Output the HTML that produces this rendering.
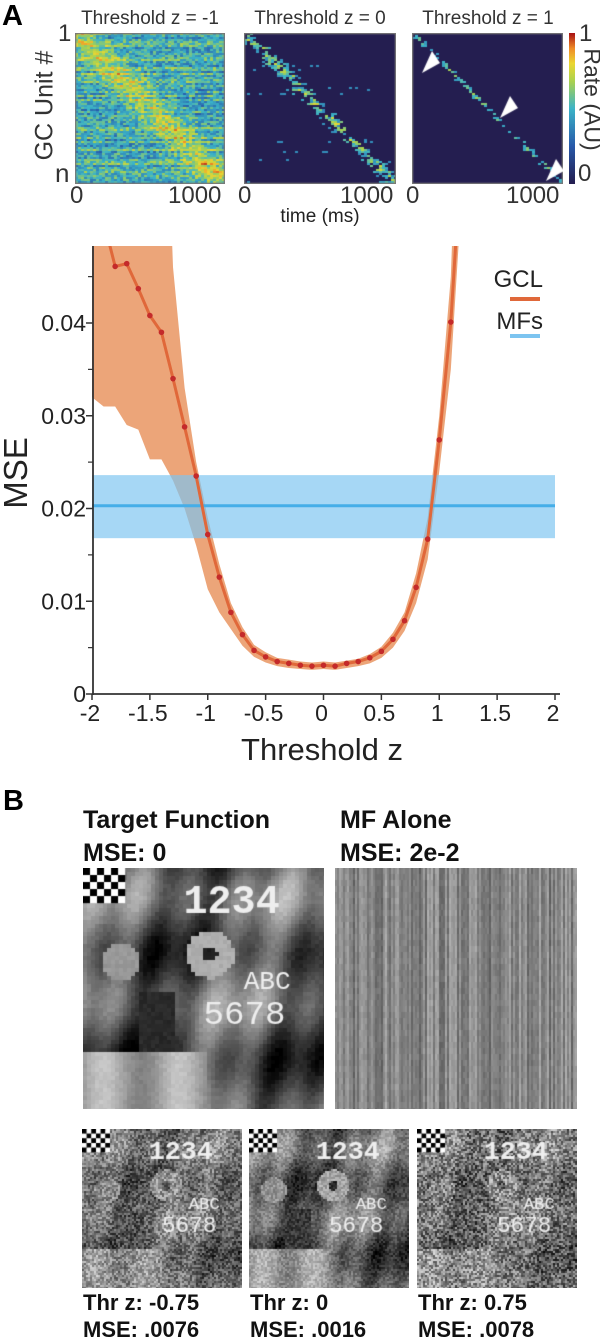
<!DOCTYPE html>
<html><head><meta charset="utf-8">
<style>
body{margin:0;background:#fff;width:600px;height:1339px;overflow:hidden;position:relative;font-family:"Liberation Sans",sans-serif;}
.abs{position:absolute;}
canvas{position:absolute;display:block;}
.bt{position:absolute;font-weight:bold;font-size:25px;color:#111;white-space:nowrap;transform-origin:0 0;}
.bs{position:absolute;font-weight:bold;font-size:22px;color:#111;white-space:nowrap;}
</style></head><body>
<div class="abs" style="left:2px;top:0px;font-size:29px;font-weight:bold;">A</div>
<div class="abs" style="left:70px;top:8px;width:160px;text-align:center;font-size:19px;color:#333">Threshold z = -1</div>
<div class="abs" style="left:240px;top:8px;width:160px;text-align:center;font-size:19px;color:#333">Threshold z = 0</div>
<div class="abs" style="left:408px;top:8px;width:160px;text-align:center;font-size:19px;color:#333">Threshold z = 1</div>
<div class="abs" style="left:58px;top:20px;font-size:24px;color:#333">1</div>
<div class="abs" style="left:55px;top:158px;font-size:26px;color:#333">n</div>
<div class="abs" style="left:-15px;top:91px;width:120px;text-align:center;font-size:25px;color:#333;transform:rotate(-90deg)">GC Unit #</div>
<canvas id="h1" width="150" height="151" style="left:75px;top:33px"></canvas>
<canvas id="h2" width="152" height="151" style="left:244px;top:33px"></canvas>
<canvas id="h3" width="151" height="151" style="left:412px;top:33px"></canvas>
<canvas id="cb" width="6" height="151" style="left:569px;top:33px"></canvas>
<div class="abs" style="left:579px;top:20px;font-size:24px;color:#333">1</div>
<div class="abs" style="left:578px;top:160px;font-size:24px;color:#333">0</div>
<div class="abs" style="left:534px;top:86px;width:116px;text-align:center;font-size:23px;color:#333;transform:rotate(90deg)">Rate (AU)</div>
<div class="abs" style="left:70px;top:182px;font-size:24px;color:#333">0</div>
<div class="abs" style="left:168px;top:182px;font-size:24px;color:#333">1000</div>
<div class="abs" style="left:238px;top:182px;font-size:24px;color:#333">0</div>
<div class="abs" style="left:340px;top:182px;font-size:24px;color:#333">1000</div>
<div class="abs" style="left:406px;top:182px;font-size:24px;color:#333">0</div>
<div class="abs" style="left:506px;top:182px;font-size:24px;color:#333">1000</div>
<div class="abs" style="left:255px;top:206px;width:130px;text-align:center;font-size:19px;color:#222">time (ms)</div>

<svg id="chart" class="abs" style="left:0;top:240px" width="600" height="530"></svg>

<div class="abs" style="left:3px;top:785px;font-size:29px;font-weight:bold;">B</div>
<div class="bt" style="left:83px;top:806px">Target Function</div>
<div class="bt" style="left:83px;top:839px">MSE: 0</div>
<div class="bt" style="left:340px;top:806px">MF Alone</div>
<div class="bt" style="left:340px;top:839px">MSE: 2e-2</div>
<canvas id="cat0" width="241" height="241" style="left:83px;top:868px"></canvas>
<canvas id="mf" width="242" height="241" style="left:335px;top:868px"></canvas>
<canvas id="c1" width="160" height="159" style="left:82px;top:1129px"></canvas>
<canvas id="c2" width="160" height="159" style="left:249px;top:1129px"></canvas>
<canvas id="c3" width="160" height="159" style="left:417px;top:1129px"></canvas>
<div class="bs" style="left:83px;top:1290px">Thr z: -0.75</div>
<div class="bs" style="left:83px;top:1317px">MSE: .0076</div>
<div class="bs" style="left:250px;top:1290px">Thr z: 0</div>
<div class="bs" style="left:250px;top:1317px">MSE: .0016</div>
<div class="bs" style="left:418px;top:1290px">Thr z: 0.75</div>
<div class="bs" style="left:418px;top:1317px">MSE: .0078</div>

<script>
// ---- chart data ----
const zVals = [-2,-1.9,-1.8,-1.7,-1.6,-1.5,-1.4,-1.3,-1.2,-1.1,-1.0,-0.9,-0.8,-0.7,-0.6,-0.5,-0.4,-0.3,-0.2,-0.1,0,0.1,0.2,0.3,0.4,0.5,0.6,0.7,0.8,0.9,1.0,1.1,1.2];
const gclMse = [0.056,0.051,0.0461,0.0464,0.0437,0.0408,0.0390,0.0340,0.0288,0.0235,0.0172,0.0126,0.0088,0.0064,0.0047,0.0040,0.0035,0.0033,0.0031,0.0030,0.0031,0.0030,0.0033,0.0035,0.0039,0.0046,0.0059,0.0079,0.0115,0.0167,0.0274,0.0401,0.060];
const gclUpper = [0.08,0.08,0.08,0.08,0.08,0.08,0.08,0.046,0.033,0.025,0.019,0.014,0.0098,0.0072,0.0053,0.0045,0.0039,0.0037,0.0035,0.0034,0.0035,0.0034,0.0036,0.0038,0.0043,0.0051,0.0066,0.0088,0.013,0.019,0.030,0.045,0.08];
const gclLower = [0.032,0.031,0.031,0.029,0.0285,0.0253,0.0253,0.023,0.020,0.016,0.0113,0.0088,0.0070,0.0052,0.0040,0.0034,0.0030,0.0028,0.0027,0.0026,0.0027,0.0026,0.0028,0.0030,0.0033,0.0039,0.0050,0.0068,0.0098,0.0145,0.024,0.035,0.055];
const dotZ = [-1.8,-1.7,-1.6,-1.5,-1.4,-1.3,-1.2,-1.1,-1.0,-0.9,-0.8,-0.7,-0.6,-0.5,-0.4,-0.3,-0.2,-0.1,0,0.1,0.2,0.3,0.4,0.5,0.6,0.7,0.8,0.9,1.0,1.1];
const mfMean = [0.0203];
const mfLow = [0.0168];
const mfHigh = [0.0236];
const xTicks = [-2,-1.5,-1,-0.5,0,0.5,1,1.5,2];
const xTickLabels = ["-2","-1.5","-1","-0.5","0","0.5","1","1.5","2"];
const yTicks = [0,0.01,0.02,0.03,0.04];
const yTickLabels = ["0","0.01","0.02","0.03","0.04"];

(function(){
const svg=document.getElementById('chart');
const NS='http://www.w3.org/2000/svg';
const X=z=>92+(z+2)*115.75;
const Y=v=>454-v*9275;
function el(t,a,parent){const e=document.createElementNS(NS,t);for(const k in a)e.setAttribute(k,a[k]);(parent||svg).appendChild(e);return e;}
const defs=el('defs',{});const cp=el('clipPath',{id:'clip'},defs);el('rect',{x:92,y:6,width:470,height:450},cp);
const g=el('g',{'clip-path':'url(#clip)'});
let d='';zVals.forEach((z,i)=>{d+=(i?'L':'M')+X(z)+','+Y(gclUpper[i]);});
for(let i=zVals.length-1;i>=0;i--)d+='L'+X(zVals[i])+','+Y(gclLower[i]);
const band=el('path',{d:d+'Z',fill:'#e8915c',opacity:0.82},g);

const mb=el('rect',{x:X(-2),y:Y(mfHigh[0]),width:X(2)-X(-2),height:Y(mfLow[0])-Y(mfHigh[0]),fill:'#7cc4f0',opacity:0.68},g);

const ml=el('line',{x1:X(-2),x2:X(2),y1:Y(mfMean[0]),y2:Y(mfMean[0]),stroke:'#45aee8','stroke-width':3},g);

let p='';zVals.forEach((z,i)=>{p+=(i?'L':'M')+X(z)+','+Y(gclMse[i]);});
const gl=el('path',{d:p,fill:'none',stroke:'#e0683a','stroke-width':3},g);

dotZ.forEach(z=>{const i=zVals.findIndex(v=>Math.abs(v-z)<1e-9);
 const c=el('circle',{cx:X(z),cy:Y(gclMse[i]),r:2.8,fill:'#c42a2a'},g);
 });
const ax=el('line',{x1:93,x2:93,y1:6,y2:455,stroke:'#333','stroke-width':1.8});

const bx=el('line',{x1:92,x2:560,y1:454,y2:454,stroke:'#333','stroke-width':1.8});

for(let v=0.005;v<0.048;v+=0.01){el('line',{x1:88,x2:93,y1:Y(v),y2:Y(v),stroke:'#333','stroke-width':1.2});}
yTicks.forEach((v,i)=>{el('line',{x1:86,x2:93,y1:Y(v),y2:Y(v),stroke:'#333','stroke-width':1.5});
 const t=el('text',{x:86,y:Y(v)+8,'text-anchor':'end','font-size':23,fill:'#222','font-family':'Liberation Sans'});t.textContent=yTickLabels[i];
 });
xTicks.forEach((z,i)=>{el('line',{x1:X(z),x2:X(z),y1:454,y2:460,stroke:'#333','stroke-width':1.5});
 const t=el('text',{x:X(z)-2,y:481,'text-anchor':'middle','font-size':23,fill:'#222','font-family':'Liberation Sans'});t.textContent=xTickLabels[i];
 });
const xt=el('text',{x:322,y:520,'text-anchor':'middle','font-size':31,fill:'#222','font-family':'Liberation Sans'});xt.textContent='Threshold z';

const yt=el('text',{x:0,y:0,'text-anchor':'middle','font-size':33,fill:'#222','font-family':'Liberation Sans',transform:'translate(27,233) rotate(-90)'});yt.textContent='MSE';

const l1=el('text',{x:543,y:47,'text-anchor':'end','font-size':24,fill:'#222','font-family':'Liberation Sans'});l1.textContent='GCL';

const l1s=el('line',{x1:510,x2:540,y1:59,y2:59,stroke:'#e0683a','stroke-width':4});

const l2=el('text',{x:543,y:89,'text-anchor':'end','font-size':24,fill:'#222','font-family':'Liberation Sans'});l2.textContent='MFs';

const l2s=el('line',{x1:510,x2:540,y1:96,y2:96,stroke:'#7cc4f0','stroke-width':4});

})();

// ---- decorative raster imagery (texture only) ----
let seed=12345;function rnd(){seed=(seed*1103515245+12345)&0x7fffffff;return seed/0x7fffffff;}
const cmStops=[[0,[36,30,80]],[0.25,[40,90,170]],[0.5,[60,180,200]],[0.68,[170,210,80]],[0.8,[235,215,50]],[0.9,[240,140,40]],[1,[170,20,20]]];
function cmap(v){v=Math.max(0,Math.min(1,v));for(let i=1;i<cmStops.length;i++){if(v<=cmStops[i][0]){const a=cmStops[i-1],b=cmStops[i],t=(v-a[0])/(b[0]-a[0]);
 return `rgb(${a[1][0]+(b[1][0]-a[1][0])*t|0},${a[1][1]+(b[1][1]-a[1][1])*t|0},${a[1][2]+(b[1][2]-a[1][2])*t|0})`;}}return 'rgb(170,20,20)';}
function heat(id,base,noise,diag,thr,width){const c=document.getElementById(id),x=c.getContext('2d');const W=c.width,H=c.height;
 x.fillStyle=cmap(0);x.fillRect(0,0,W,H);
 for(let yy=0;yy<H;yy+=2){const rowOff=(rnd()-0.5)*0.25;for(let xx=0;xx<W;xx+=3){
  const dd=Math.abs(xx/W-yy/H);let v=base+rowOff+(rnd()-0.5)*noise+diag*Math.exp(-dd*dd/width);
  if(v<thr)continue;x.fillStyle=cmap(v);x.fillRect(xx,yy,3,2);}}
 x.strokeStyle='#777';x.lineWidth=1.5;x.strokeRect(0.5,0.5,W-1,H-1);}
heat('h1',0.5,0.3,0.22,-1,0.02);
heat('h2',0.05,0.5,0.45,0.38,0.004);
heat('h3',-0.1,0.3,0.55,0.42,0.002);
(function(){const x=document.getElementById('h3').getContext('2d');x.fillStyle='#fff';
 [[14,40],[92,85],[138,148]].forEach(([a,b])=>{x.beginPath();x.moveTo(a-4,b);x.lineTo(a+6,b-22);x.lineTo(a+14,b-10);x.closePath();x.fill();});})();
(function(){const c=document.getElementById('cb').getContext('2d');for(let i=0;i<151;i++){c.fillStyle=cmap(1-i/150);c.fillRect(0,i,6,1);}})();
function cat(id,noise,contrast,px){const c=document.getElementById(id),x=c.getContext('2d');const W=c.width,H=c.height,s=W/240;
 for(let yy=0;yy<H;yy+=px)for(let xx=0;xx<W;xx+=px){const u=xx/W,v=yy/H;
  let g=95+40*Math.sin(u*9+v*4)+30*Math.sin(v*14)+25*Math.sin(u*31+v*7);
  const e1=Math.hypot(u-0.52,v-0.35),e2=Math.hypot(u-0.15,v-0.38);
  if(e1<0.1)g=170;if(e1<0.03)g=40;if(e2<0.08)g=150;
  if(Math.abs(u-0.3)<0.08&&v>0.5&&v<0.75)g=50;
  if(v>0.75&&u<0.5)g=160+30*Math.sin(u*20);
  g=128+(g-128)*contrast+(rnd()-0.5)*noise;x.fillStyle=`rgb(${g|0},${g|0},${g|0})`;x.fillRect(xx,yy,px,px);}
 for(let i=0;i<6;i++)for(let j=0;j<5;j++){x.fillStyle=(i+j)%2?'#fff':'#000';x.fillRect(i*7*s,j*7*s,7*s,7*s);}
 x.fillStyle='#eee';x.font=`bold ${40*s}px "Liberation Mono",monospace`;x.fillText('1234',100*s,45*s);
 x.font=`${26*s}px "Liberation Mono",monospace`;x.fillText('ABC',160*s,120*s);x.font=`${34*s}px "Liberation Mono",monospace`;x.fillText('5678',120*s,155*s);}
cat('cat0',15,1.1,4);cat('c1',110,0.6,2);cat('c2',60,0.9,2);cat('c3',140,0.45,2);
(function(){const c=document.getElementById('mf'),x=c.getContext('2d');for(let xx=0;xx<242;xx+=2){const g=100+rnd()*70;
 for(let yy=0;yy<241;yy+=6){const h=g+(rnd()-0.5)*20;x.fillStyle=`rgb(${h|0},${h|0},${h|0})`;x.fillRect(xx,yy,2,6);}}})();
</script>
</body></html>
